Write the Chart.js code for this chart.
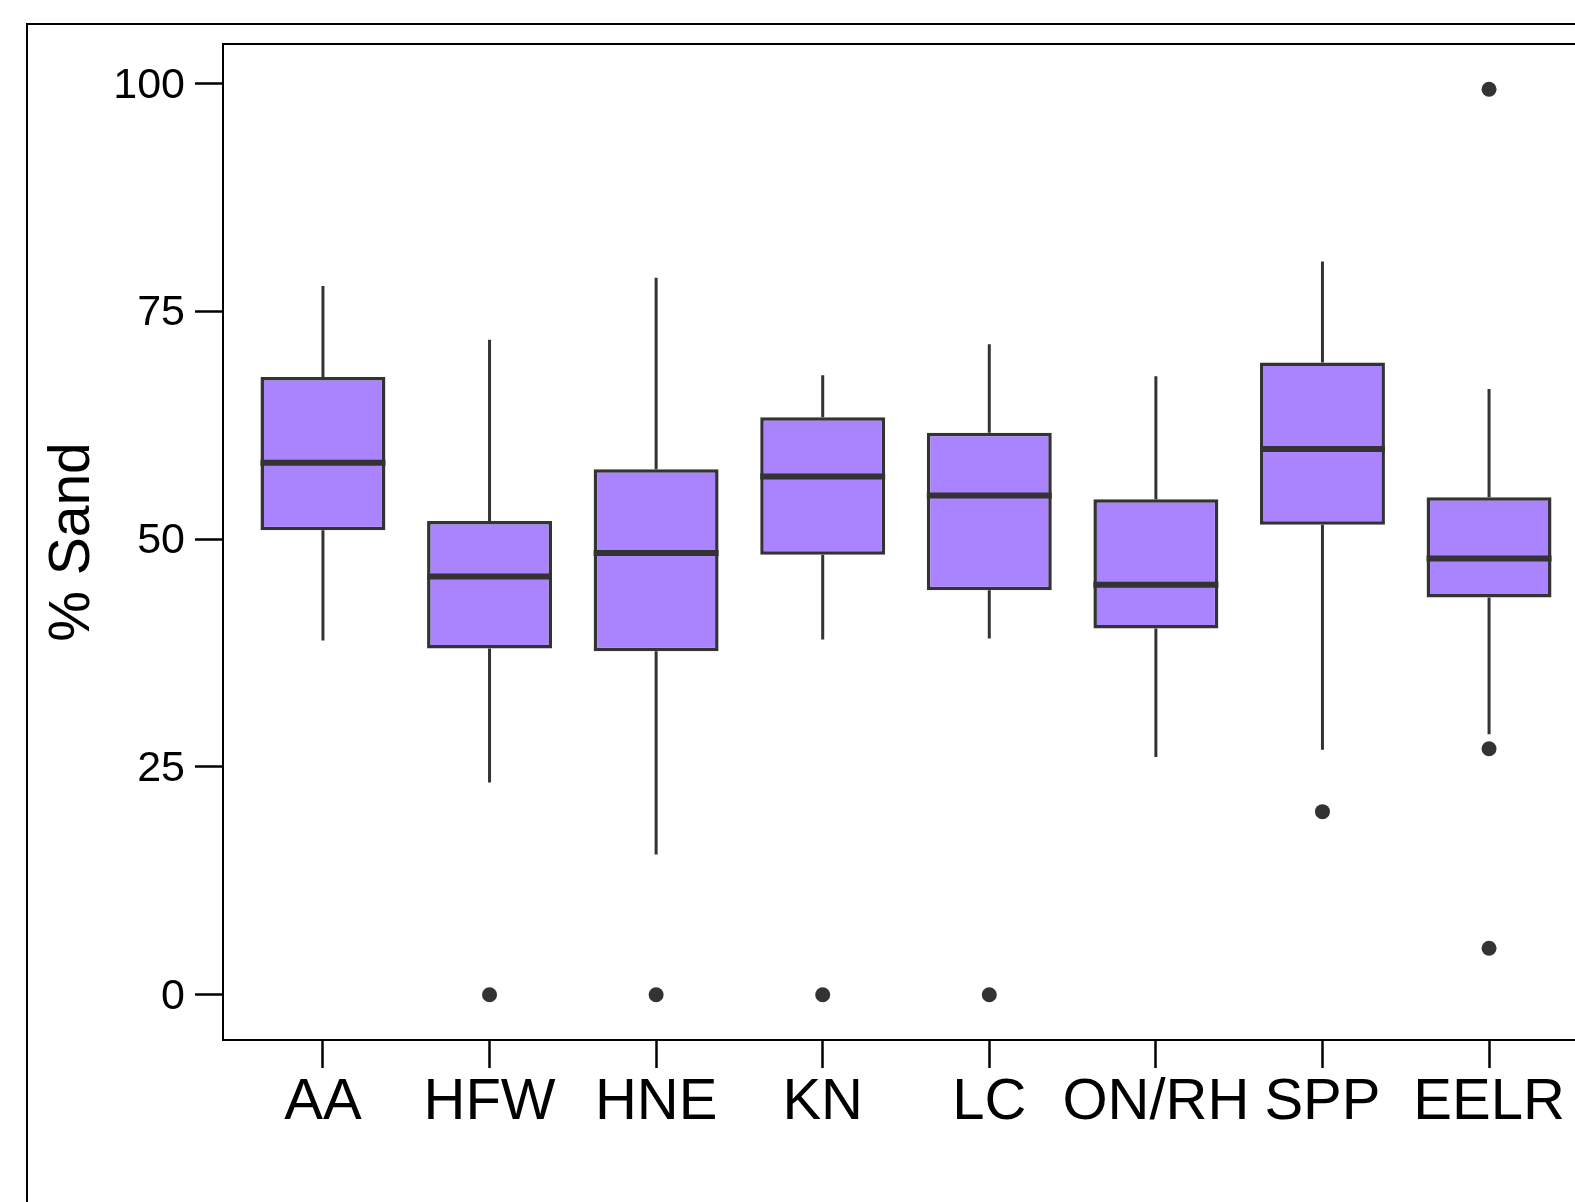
<!DOCTYPE html>
<html><head><meta charset="utf-8">
<script src="https://cdn.jsdelivr.net/npm/chart.js@4/dist/chart.umd.min.js"></script>
<style>
html,body{margin:0;padding:0;background:#fff;overflow:hidden;width:1575px;height:1202px}
#wrap{position:absolute;left:0;top:0;width:1700px;height:1202px}
canvas{display:block}
</style></head><body>
<div id="wrap"><canvas id="c" width="1700" height="1202" style="width:1700px;height:1202px"></canvas></div>
<script>
// ---- data ----
const categories  = ['AA','HFW','HNE','KN','LC','ON/RH','SPP','EELR'];
const whiskerLow  = [38.9, 23.3, 15.4, 39.0, 39.1, 26.1, 26.9, 28.6];
const q1          = [51.0, 38.0, 37.7, 48.3, 44.4, 40.2, 51.6, 43.6];
const median      = [58.4, 45.9, 48.5, 56.9, 54.8, 45.0, 59.9, 47.9];
const q3          = [67.8, 52.0, 57.7, 63.4, 61.7, 54.4, 69.4, 54.6];
const whiskerHigh = [77.8, 71.9, 78.7, 68.0, 71.4, 67.9, 80.5, 66.5];
const outlierCategory = ['HFW','HNE','KN','LC','SPP','EELR','EELR','EELR'];
const outlierValues   = [0, 0, 0, 0, 20.1, 99.4, 27.0, 5.1];
const yTickValues = [0, 25, 50, 75, 100];
const yTitle = '% Sand';

// ---- styling ----
const BOX_WIDTH = 0.75;
const FILL = '#AA83FF';
const LINE = '#333333';

Chart.defaults.font.family = "'Liberation Sans', Arial, sans-serif";
Chart.defaults.color = '#000';

const pos = c => categories.indexOf(c) + 1;

const boxData = categories.map((c, i) => ({x: i + 1, y: [q1[i], q3[i]]}));
const whiskerData = categories.flatMap((c, i) => [
  {x: i + 1, y: whiskerLow[i]}, {x: i + 1, y: q1[i]}, {x: i + 1, y: null},
  {x: i + 1, y: q3[i]}, {x: i + 1, y: whiskerHigh[i]}, {x: i + 1, y: null}
]);
const medianData = categories.flatMap((c, i) => [
  {x: i + 1 - BOX_WIDTH / 2, y: median[i]}, {x: i + 1 + BOX_WIDTH / 2, y: median[i]}, {x: i + 1, y: null}
]);
const outlierData = outlierCategory.map((c, k) => ({x: pos(c), y: outlierValues[k]}));

const allVals = [...whiskerLow, ...whiskerHigh, ...outlierValues];
const dMin = Math.min(...allVals), dMax = Math.max(...allVals);
const pad = (dMax - dMin) * 0.05;

const framePlugin = {
  id: 'frames',
  beforeDraw(chart) {
    const ctx = chart.ctx;
    ctx.save();
    ctx.fillStyle = '#fff';
    ctx.fillRect(0, 0, chart.width, chart.height);
    ctx.strokeStyle = '#000';
    ctx.lineWidth = 2;
    ctx.strokeRect(27, 24, 3000, 3000);
    ctx.restore();
  },
  beforeDatasetsDraw(chart) {
    const {ctx, chartArea: a} = chart;
    ctx.save();
    ctx.strokeStyle = '#000';
    ctx.lineWidth = 2;
    ctx.strokeRect(a.left, a.top, a.right - a.left, a.bottom - a.top);
    ctx.restore();
  }
};

new Chart(document.getElementById('c'), {
  type: 'bar',
  data: {
    datasets: [
      {type: 'bar', data: boxData, backgroundColor: FILL, borderColor: LINE, borderWidth: 3.5,
       borderSkipped: false, barPercentage: BOX_WIDTH, categoryPercentage: 1, grouped: false, order: 2},
      {type: 'line', data: whiskerData, borderColor: LINE, borderWidth: 3, pointRadius: 0,
       spanGaps: false, fill: false, order: 3, borderCapStyle: 'butt'},
      {type: 'line', data: medianData, borderColor: LINE, borderWidth: 6, pointRadius: 0,
       spanGaps: false, fill: false, order: 0, borderCapStyle: 'butt'},
      {type: 'scatter', data: outlierData, backgroundColor: LINE, borderWidth: 0, pointRadius: 7.5,
       pointHoverRadius: 7.5, showLine: false, order: 0}
    ]
  },
  options: {
    responsive: false,
    animation: false,
    events: [],
    layout: {padding: {left: 0, top: 44, right: 111, bottom: 0}},
    plugins: {legend: {display: false}, tooltip: {enabled: false}},
    scales: {
      x: {
        type: 'linear', min: 1 - 0.6, max: categories.length + 0.6, offset: false,
        afterBuildTicks: s => { s.ticks = categories.map((c, i) => ({value: i + 1})); },
        afterFit: s => { s.height = 162; },
        ticks: {callback: v => categories[Math.round(v) - 1] ?? '', font: {size: 58, lineHeight: 1},
                color: '#000', padding: 6, maxRotation: 0, minRotation: 0, autoSkip: false},
        grid: {drawOnChartArea: false, drawTicks: true, tickLength: 28, tickWidth: 2.5, tickColor: '#000', offset: false},
        border: {display: true, color: '#000', width: 2}
      },
      y: {
        type: 'linear', min: dMin - pad, max: dMax + pad,
        afterBuildTicks: s => { s.ticks = yTickValues.map(v => ({value: v})); },
        afterFit: s => { s.width = 223; },
        ticks: {font: {size: 43, lineHeight: 1}, color: '#000', padding: 10, labelOffset: 2},
        grid: {drawOnChartArea: false, drawTicks: true, tickLength: 28, tickWidth: 2.5, tickColor: '#000'},
        border: {display: true, color: '#000', width: 2},
        title: {display: true, text: yTitle, font: {size: 57, lineHeight: 1}, color: '#000',
                padding: {top: 45, bottom: 0}}
      }
    }
  },
  plugins: [framePlugin]
});
</script>
</body></html>
